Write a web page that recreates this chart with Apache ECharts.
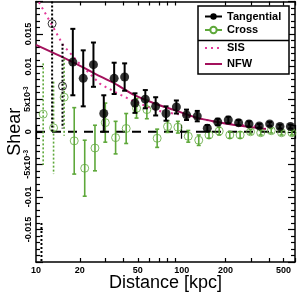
<!DOCTYPE html>
<html><head><meta charset="utf-8">
<script src="https://cdn.jsdelivr.net/npm/echarts@6/dist/echarts.min.js"></script>
<style>html,body{margin:0;padding:0;background:#fff}#c{width:298px;height:294px}</style>
</head><body><div id="c"></div>
<script>
// ---- data ----
const tanX   = [10.9, 12.9, 15.2, 17.9, 21.1, 24.8, 29.2, 34.4, 40.6, 47.8, 56.3, 66.3, 78.1, 92.0, 108, 128, 150, 177, 209, 246, 290, 341, 402, 473, 558];
const tanY   = [-0.028, 0.0166, 0.0070, 0.0107, 0.0082, 0.0103, 0.0028, 0.0082, 0.0084, 0.0044, 0.0050, 0.0039, 0.0028, 0.0038, 0.0026, 0.0024, 0.00053, 0.0015, 0.0018, 0.0014, 0.0012, 0.0009, 0.0012, 0.0008, 0.0008];
const tanErr = [0.014, 0.0166, 0.0065, 0.0051, 0.0043, 0.0034, 0.0028, 0.0024, 0.0021, 0.0015, 0.0014, 0.0014, 0.0011, 0.0010, 0.0008, 0.0008, 0.0005, 0.0005, 0.0005, 0.0004, 0.0004, 0.0003, 0.0003, 0.0003, 0.0003];
const crossX   = [11.2, 13.2, 15.6, 18.3, 21.6, 25.4, 29.9, 35.2, 41.6, 49.0, 57.7, 67.9, 80.0, 94.2, 111, 131, 154, 181, 214, 252, 297, 349, 412, 485, 571];
const crossY   = [0.0027, 0.0006, 0.0053, -0.0014, -0.0056, -0.0025, 0.0014, -0.0009, 0.0005, 0.0036, 0.0034, -0.0010, 0.0008, 0.0007, -0.0007, -0.0013, -0.0005, 0.0001, -0.0005, -0.0005, 0.0000, -0.00015, 0.00016, -0.00015, -0.00015];
const crossErr = [0.0078, 0.0071, 0.0059, 0.0051, 0.0043, 0.0035, 0.0030, 0.0025, 0.0023, 0.0015, 0.0014, 0.0014, 0.0009, 0.0009, 0.0009, 0.0008, 0.0005, 0.0006, 0.0005, 0.0005, 0.00035, 0.00035, 0.00035, 0.00035, 0.00035];
const innerBins = 3; // inner bins drawn with open symbols and dotted error bars
const sisX = [10, 13.3, 15.4, 20, 27.4, 34.8, 45.2, 58.7, 72.6, 100, 168, 250, 379];
const sisY = [0.0207, 0.0158, 0.01325, 0.0104, 0.0074, 0.0061, 0.00485, 0.00383, 0.0031, 0.0026, 0.00155, 0.00105, 0.0007];
const nfwX = [10, 14.6, 21.9, 25.3, 34.8, 47.6, 65.3, 89.5, 123, 168, 231, 292, 379];
const nfwY = [0.01335, 0.01164, 0.00969, 0.00893, 0.0074, 0.00561, 0.00434, 0.00332, 0.00225, 0.00157, 0.00103, 0.00073, 0.00042];
const xLabelTicks = [10, 20, 50, 100, 200, 500];
const xMinorTicks = [20, 30, 40, 50, 60, 70, 80, 90, 200, 300, 400, 500, 600];
const zeroLine = [[10, 0], [600, 0]];

const GREEN = '#5ea83a', PINK = '#e3399a', NFWC = '#a3115c';
const zip3 = (a, b, c) => a.map((v, i) => [v, b[i], c[i]]);
const tan = zip3(tanX, tanY, tanErr), cross = zip3(crossX, crossY, crossErr);

function errRender(color, width, cap, dottedInner) {
  return function (params, api) {
    const i = params.dataIndex;
    const dotted = i < innerBins && dottedInner;
    const x = api.value(0), y = api.value(1), e = api.value(2);
    const top = api.coord([x, y + e]), bot = api.coord([x, y - e]);
    const cs = params.coordSys;
    const t = Math.max(top[1], cs.y), b = Math.min(bot[1], cs.y + cs.height);
    if (t >= b) return null;
    const st = { stroke: color, lineWidth: width, lineDash: dotted ? [2, 2] : null };
    const ch = [{ type: 'line', shape: { x1: top[0], y1: t, x2: top[0], y2: b }, style: st }];
    if (!dotted) {
      if (top[1] >= cs.y) ch.push({ type: 'line', shape: { x1: top[0] - cap, y1: top[1], x2: top[0] + cap, y2: top[1] }, style: { stroke: color, lineWidth: width } });
      if (bot[1] <= cs.y + cs.height) ch.push({ type: 'line', shape: { x1: bot[0] - cap, y1: bot[1], x2: bot[0] + cap, y2: bot[1] }, style: { stroke: color, lineWidth: width } });
    }
    return { type: 'group', children: ch };
  };
}

function yFmt(v) {
  const m = Math.round(v * 1000);
  const map = { '15': '0.015', '10': '0.01', '5': '5x10{s|-3}', '0': '0', '-5': '-5x10{s|-3}', '-10': '-0.01', '-15': '-0.015' };
  return map[String(m)] || '';
}

const chart = echarts.init(document.getElementById('c'), null, { renderer: 'canvas' });
const axisCommon = { min: 10, max: 600, logBase: 10, axisLine: { show: false }, splitLine: { show: false } };
const font = 'Liberation Sans';
const hideSym = { opacity: 0 };
chart.setOption({
  animation: false,
  textStyle: { fontFamily: font },
  grid: { left: 36, right: 3, top: 1.5, bottom: 32, containLabel: false, outerBoundsMode: 'none' },
  xAxis: [
    Object.assign({}, axisCommon, { type: 'log', position: 'bottom',
      axisLine: { show: true, onZero: false, lineStyle: { color: '#000', width: 1.5 } },
      axisTick: { show: true, inside: true, length: 4, customValues: xMinorTicks, lineStyle: { color: '#000', width: 1.2 } },
      axisLabel: { show: true, customValues: xLabelTicks, color: '#000', fontSize: 9, fontWeight: 'bold', margin: 4, formatter: v => String(Math.round(v)) },
      name: 'Distance [kpc]', nameLocation: 'middle', nameGap: 12, nameMoveOverlap: false, nameTextStyle: { fontSize: 18, color: '#000' } }),
    Object.assign({}, axisCommon, { type: 'log', position: 'bottom',
      axisTick: { show: true, inside: true, length: 7, lineStyle: { color: '#000', width: 1.2 } }, axisLabel: { show: false } }),
    Object.assign({}, axisCommon, { type: 'log', position: 'top',
      axisLine: { show: true, onZero: false, lineStyle: { color: '#000', width: 1.5 } },
      axisTick: { show: true, inside: true, length: 4, customValues: xMinorTicks, lineStyle: { color: '#000', width: 1.2 } }, axisLabel: { show: false } }),
    Object.assign({}, axisCommon, { type: 'log', position: 'top',
      axisTick: { show: true, inside: true, length: 7, lineStyle: { color: '#000', width: 1.2 } }, axisLabel: { show: false } })
  ],
  yAxis: [
    { type: 'value', min: -0.02, max: 0.02, interval: 0.005, position: 'left', splitLine: { show: false },
      axisLine: { show: true, onZero: false, lineStyle: { color: '#000', width: 1.5 } },
      axisTick: { inside: true, length: 7, lineStyle: { color: '#000', width: 1.2 } },
      minorTick: { show: true, splitNumber: 5, length: 4, lineStyle: { color: '#000', width: 1.2 } },
      axisLabel: { rotate: 90, color: '#000', fontSize: 9, fontWeight: 'bold', margin: 3, formatter: yFmt,
        rich: { s: { fontSize: 6.5, fontWeight: 'bold', verticalAlign: 'top', lineHeight: 10, padding: [0, 0, 6, 0] } } },
      name: 'Shear', nameLocation: 'middle', nameGap: 12, nameMoveOverlap: false, nameRotate: 90, nameTextStyle: { fontSize: 18, color: '#000' } },
    { type: 'value', min: -0.02, max: 0.02, interval: 0.005, position: 'right', splitLine: { show: false },
      axisLine: { show: true, onZero: false, lineStyle: { color: '#000', width: 1.5 } },
      axisTick: { inside: true, length: 7, lineStyle: { color: '#000', width: 1.2 } },
      minorTick: { show: true, splitNumber: 5, length: 4, lineStyle: { color: '#000', width: 1.2 } },
      axisLabel: { show: false } }
  ],
  graphic: [
    { type: 'rect', z: 10, shape: { x: 198, y: 6, width: 91, height: 68 }, style: { fill: '#fff', stroke: '#000', lineWidth: 1.5 } },
    { type: 'line', z: 10, shape: { x1: 198, y1: 40.5, x2: 289, y2: 40.5 }, style: { stroke: '#000', lineWidth: 1.5 } }
  ],
  legend: [
    { z: 20, data: ['Tangential', 'Cross'],
      orient: 'vertical', left: 204, top: 10, padding: 0, itemGap: 0.5, itemWidth: 17, itemHeight: 8,
      textStyle: { fontSize: 11, fontWeight: 'bold', color: '#000', lineHeight: 13, fontFamily: font }, selectedMode: false },
    { z: 20, data: [{ name: 'SIS', itemStyle: hideSym }, { name: 'NFW', itemStyle: hideSym }], orient: 'vertical', left: 204, top: 41.5, padding: 0, itemGap: 3, itemWidth: 17, itemHeight: 8,
      textStyle: { fontSize: 11, fontWeight: 'bold', color: '#000', lineHeight: 13, fontFamily: font }, selectedMode: false }
  ],
  series: [
    { type: 'line', name: 'zero', data: zeroLine, symbol: 'none', lineStyle: { color: '#000', width: 2, type: [9, 7] }, z: 1 },
    { type: 'line', name: 'SIS', data: sisX.map((x, i) => [x, sisY[i]]), symbol: 'none', lineStyle: { color: PINK, width: 2, type: [2, 4] }, z: 2 },
    { type: 'line', name: 'NFW', data: nfwX.map((x, i) => [x, nfwY[i]]), symbol: 'none', smooth: 0.3, lineStyle: { color: NFWC, width: 2 }, z: 2 },
    { type: 'custom', name: 'crossErr', data: cross, renderItem: errRender(GREEN, 1.6, 2, true), z: 3 },
    { type: 'scatter', name: 'crossPts', data: cross.map(d => [d[0], d[1]]), symbol: 'circle', symbolSize: 8,
      itemStyle: { color: 'rgba(255,255,255,0)', borderColor: GREEN, borderWidth: 1 }, z: 4 },
    { type: 'custom', name: 'tanErr', data: tan, renderItem: errRender('#000', 2, 2.5, true), z: 5 },
    { type: 'scatter', name: 'tanOpen', data: tan.slice(0, innerBins).map(d => [d[0], d[1]]), symbol: 'circle', symbolSize: 8,
      itemStyle: { color: 'rgba(255,255,255,0)', borderColor: '#000', borderWidth: 1 }, z: 6 },
    { type: 'scatter', name: 'tanPts', data: tan.slice(innerBins).map(d => [d[0], d[1]]), symbol: 'circle', symbolSize: 9,
      itemStyle: { color: '#000' }, z: 6 },
    // legend-only series
    { type: 'line', name: 'Tangential', data: [], symbol: 'circle', symbolSize: 7, itemStyle: { color: '#000' }, lineStyle: { color: '#000', width: 2 } },
    { type: 'line', name: 'Cross', data: [], symbol: 'emptyCircle', symbolSize: 7, itemStyle: { color: GREEN, borderWidth: 1.2 }, lineStyle: { color: GREEN, width: 1.5 } }
  ]
});
</script></body></html>
